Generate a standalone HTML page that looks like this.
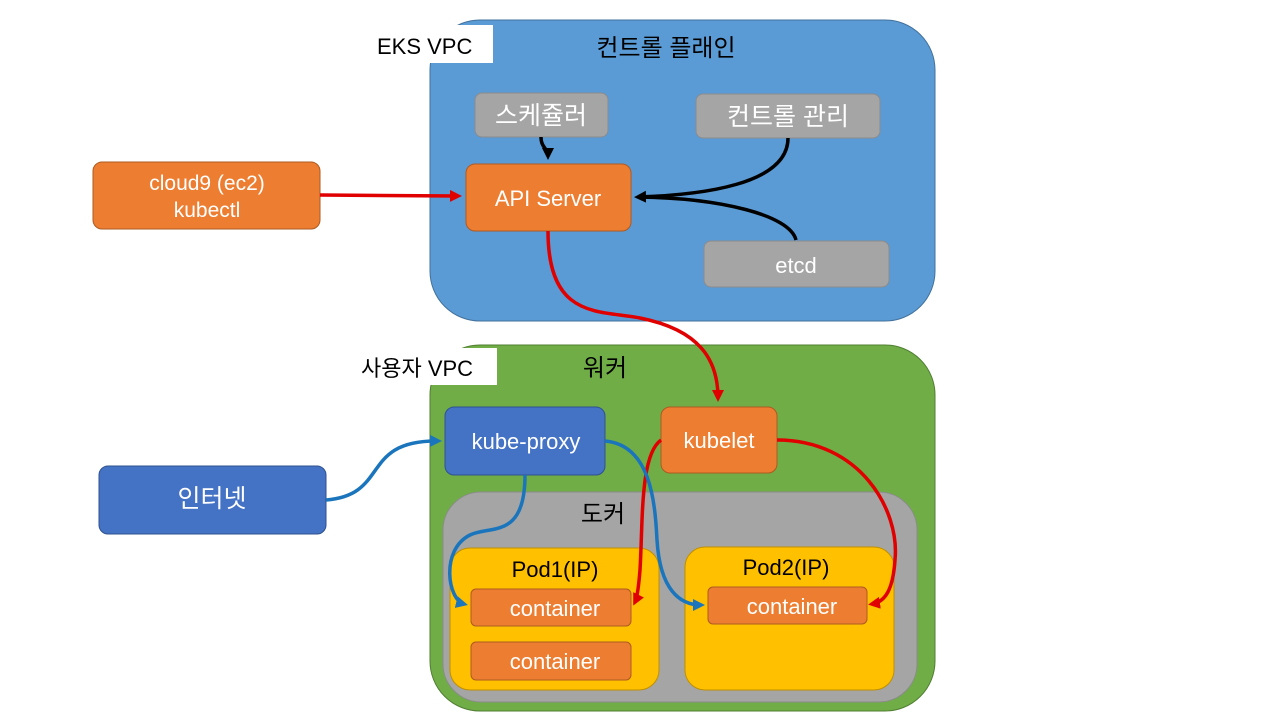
<!DOCTYPE html>
<html><head><meta charset="utf-8"><style>
html,body{margin:0;padding:0;background:#fff}
svg{display:block}
text{font-family:"Liberation Sans","Noto Sans CJK KR",sans-serif}
</style></head><body>
<svg width="1280" height="720" viewBox="0 0 1280 720" xmlns="http://www.w3.org/2000/svg">
<defs>
<marker id="ak" markerWidth="12" markerHeight="12" refX="8" refY="6" orient="auto" markerUnits="userSpaceOnUse"><path d="M0,0 L12,6 L0,12 z" fill="#000"/></marker>
<marker id="ar" markerWidth="12" markerHeight="12" refX="8" refY="6" orient="auto" markerUnits="userSpaceOnUse"><path d="M0,0 L12,6 L0,12 z" fill="#e00000"/></marker>
<marker id="ab" markerWidth="12" markerHeight="12" refX="8" refY="6" orient="auto" markerUnits="userSpaceOnUse"><path d="M0,0 L12,6 L0,12 z" fill="#1a75bc"/></marker>
</defs>
<!-- EKS -->
<rect x="430" y="20" width="505" height="301" rx="50" fill="#5b9bd5" stroke="#41719c"/>
<rect x="367" y="25" width="126" height="38" fill="#fff"/>
<text x="377" y="54" font-size="22" fill="#000">EKS VPC</text>
<text x="666" y="56" font-size="24" fill="#000" text-anchor="middle">컨트롤 플래인</text>
<rect x="475" y="93" width="133" height="44" rx="7" fill="#a5a5a5" stroke="#8b8b8b"/>
<text x="541" y="124" font-size="25" fill="#fff" text-anchor="middle">스케쥴러</text>
<rect x="696" y="94" width="184" height="44" rx="7" fill="#a5a5a5" stroke="#8b8b8b"/>
<text x="788" y="125" font-size="25" fill="#fff" text-anchor="middle">컨트롤 관리</text>
<rect x="704" y="241" width="185" height="46" rx="7" fill="#a5a5a5" stroke="#8b8b8b"/>
<text x="796" y="273" font-size="22" fill="#fff" text-anchor="middle">etcd</text>
<rect x="466" y="164" width="165" height="67" rx="9" fill="#ed7d31" stroke="#ae5a21"/>
<text x="548" y="206" font-size="22" fill="#fff" text-anchor="middle">API Server</text>
<rect x="93" y="162" width="227" height="67" rx="9" fill="#ed7d31" stroke="#ae5a21"/>
<text x="207" y="190" font-size="21" fill="#fff" text-anchor="middle">cloud9 (ec2)</text>
<text x="207" y="217" font-size="21" fill="#fff" text-anchor="middle">kubectl</text>
<!-- Worker -->
<rect x="430" y="345" width="505" height="366" rx="50" fill="#70ad47" stroke="#507e32"/>
<rect x="355" y="348" width="142" height="37" fill="#fff"/>
<text x="361" y="376" font-size="22" fill="#000">사용자 VPC</text>
<text x="605" y="376" font-size="24" fill="#000" text-anchor="middle">워커</text>
<rect x="443" y="492" width="474" height="210" rx="38" fill="#a5a5a5" stroke="#8b8b8b"/>
<text x="603" y="522" font-size="24" fill="#000" text-anchor="middle">도커</text>
<rect x="450" y="548" width="209" height="142" rx="20" fill="#ffc000" stroke="#bf9000"/>
<text x="555" y="577" font-size="22" fill="#000" text-anchor="middle">Pod1(IP)</text>
<rect x="685" y="547" width="209" height="143" rx="20" fill="#ffc000" stroke="#bf9000"/>
<text x="786" y="575" font-size="22" fill="#000" text-anchor="middle">Pod2(IP)</text>
<rect x="471" y="589" width="160" height="37" rx="5" fill="#ed7d31" stroke="#ae5a21"/>
<text x="555" y="616" font-size="22" fill="#fff" text-anchor="middle">container</text>
<rect x="471" y="642" width="160" height="38" rx="5" fill="#ed7d31" stroke="#ae5a21"/>
<text x="555" y="669" font-size="22" fill="#fff" text-anchor="middle">container</text>
<rect x="708" y="587" width="159" height="37" rx="5" fill="#ed7d31" stroke="#ae5a21"/>
<text x="792" y="614" font-size="22" fill="#fff" text-anchor="middle">container</text>
<rect x="445" y="407" width="160" height="68" rx="9" fill="#4472c4" stroke="#2f528f"/>
<text x="526" y="449" font-size="22" fill="#fff" text-anchor="middle">kube-proxy</text>
<rect x="661" y="407" width="116" height="66" rx="9" fill="#ed7d31" stroke="#ae5a21"/>
<text x="719" y="448" font-size="22" fill="#fff" text-anchor="middle">kubelet</text>
<rect x="99" y="466" width="227" height="68" rx="9" fill="#4472c4" stroke="#2f528f"/>
<text x="212" y="507" font-size="25" fill="#fff" text-anchor="middle">인터넷</text>
<!-- connectors -->
<g fill="none" stroke-width="3.5">
<path d="M541,137 C541,148 548,148 548,156" stroke="#000" marker-end="url(#ak)"/>
<path d="M788,138 C788,185 700,195 638,197" stroke="#000" marker-end="url(#ak)"/>
<path d="M796,240 C790,215 720,198 638,197" stroke="#000"/>
<path d="M320,195 L458,196" stroke="#e00000" marker-end="url(#ar)"/>
<path d="M548,231 C548,320 600,310 640,318 C700,330 718,360 718,398" stroke="#e00000" marker-end="url(#ar)"/>
<path d="M661,440 C640,455 643,520 640,570 C638,595 636,600 635,602" stroke="#e00000" marker-end="url(#ar)"/>
<path d="M777,440 C860,440 900,510 895,560 C893,590 885,602 872,604" stroke="#e00000" marker-end="url(#ar)"/>
<path d="M326,500 C390,495 360,440 438,441" stroke="#1a75bc" marker-end="url(#ab)"/>
<path d="M525,475 C525,540 490,525 470,535 C440,550 448,600 464,604" stroke="#1a75bc" marker-end="url(#ab)"/>
<path d="M605,441 C650,445 655,500 657,540 C660,590 680,605 701,605" stroke="#1a75bc" marker-end="url(#ab)"/>
</g>
</svg>
</body></html>
